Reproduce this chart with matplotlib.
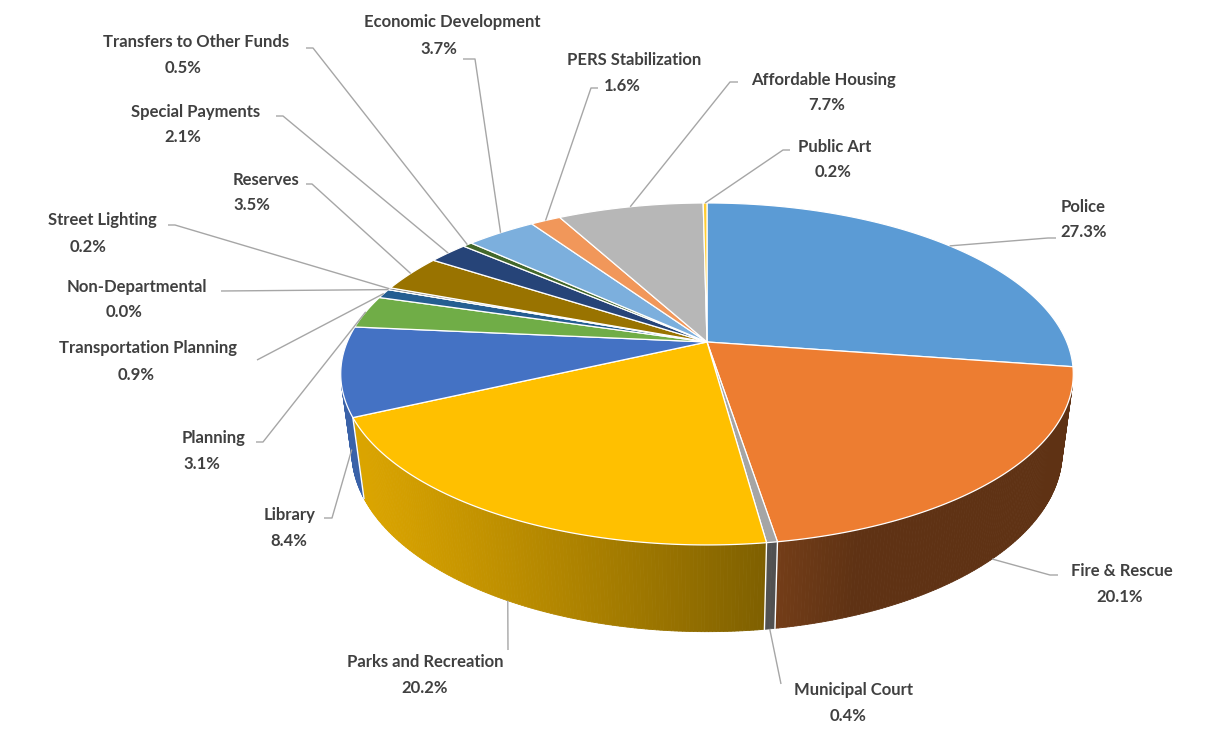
import numpy as np
import matplotlib.pyplot as plt
from matplotlib.collections import PolyCollection
from matplotlib.colors import to_rgb

# General fund spending by department (share of total, %)
labels = ['Police', 'Fire & Rescue', 'Municipal Court', 'Parks and Recreation', 'Library',
          'Planning', 'Transportation Planning', 'Non-Departmental', 'Street Lighting',
          'Reserves', 'Special Payments', 'Transfers to Other Funds', 'Economic Development',
          'PERS Stabilization', 'Affordable Housing', 'Public Art']
shares = [27.3, 20.1, 0.4, 20.2, 8.4, 3.1, 0.9, 0.0, 0.2, 3.5, 2.1, 0.5, 3.7, 1.6, 7.7, 0.2]
colors = ['#5B9BD5', '#ED7D31', '#A5A5A5', '#FFC000', '#4472C4', '#70AD47', '#255E91',
          '#9E480E', '#636363', '#997300', '#264478', '#43682B', '#7CAFDD', '#F1975A',
          '#B7B7B7', '#FFCD33']

# label layout: centre of name line, centre of percent line, leader start, tick length
name_pos = [(1083, 207), (1122, 571), (854, 690), (425, 662), (290, 515), (214, 438),
            (148, 348), (137, 287), (102, 220), (266, 180), (196, 112), (196, 42),
            (452, 22), (634, 60), (823, 80), (835, 147)]
pct_pos = [(1084, 232), (1120, 597), (848, 716), (425, 688), (289, 541), (202, 464),
           (136, 375), (124, 312), (88, 247), (252, 205), (183, 137), (183, 68),
           (439, 49), (622, 86), (827, 105), (833, 172)]
lead_pos = [(1056, 238), (1058, 575), (781, 684), (508, 650), (324, 518), (256, 442),
            (257, 360), (221, 291), (168, 225), (306, 184), (276, 116), (306, 48),
            (463, 59), (598, 88), (738, 82), (790, 150)]
lead_tick = [-8, -8, 0, 0, 8, 7, 0, 0, 7, 6, 7, 7, 12, -7, -8, -7]

# perspective camera for the tilted pie
CX, CY = 707, 342
FX, FY = 1667, 1529
TILT = np.radians(30)
DIST = 4.633
DEPTH = 0.277


def project(theta, y=0.0):
    X, Z = np.sin(theta), np.cos(theta)
    c, s = np.cos(TILT), np.sin(TILT)
    yv = y * c + Z * s
    zv = DIST + Z * c - y * s
    return CX + FX * X / zv, CY - FY * yv / zv


def shade(color, theta):
    # light comes from the front left
    f = 0.40 + 0.46 * max(0.0, np.cos(theta - np.radians(250)))
    r, g, b = to_rgb(color)
    return (r * f, g * f, b * f)


fig = plt.figure(figsize=(12.08, 7.38), dpi=100)
ax = fig.add_axes([0, 0, 1, 1])
ax.set_xlim(0, 1208)
ax.set_ylim(738, 0)
ax.axis('off')

vals = np.array(shares, dtype=float)
edges = np.concatenate([[0], np.cumsum(vals)]) / vals.sum() * 2 * np.pi

# outer wall, only the part that faces the camera
lim = np.arccos(-1 / (DIST * np.cos(TILT)))
quads, qcols = [], []
for i, col in enumerate(colors):
    a0, a1 = max(edges[i], lim), min(edges[i + 1], 2 * np.pi - lim)
    if a1 <= a0:
        continue
    n = max(2, int(np.degrees(a1 - a0) * 2))
    ts = np.linspace(a0, a1, n + 1)
    for t0, t1 in zip(ts[:-1], ts[1:]):
        quads.append([project(t0), project(t1), project(t1, -DEPTH), project(t0, -DEPTH)])
        qcols.append(shade(col, 0.5 * (t0 + t1)))
ax.add_collection(PolyCollection(quads, facecolors=qcols, edgecolors=qcols,
                                 linewidths=0.6, zorder=1))

for a in edges:
    if lim < a < 2 * np.pi - lim:
        x0, y0 = project(a)
        x1, y1 = project(a, -DEPTH)
        ax.plot([x0, x1], [y0, y1], color='white', lw=1.0, zorder=2)

# top faces
for i, col in enumerate(colors):
    a0, a1 = edges[i], edges[i + 1]
    n = max(2, int(np.degrees(a1 - a0) * 2))
    ts = np.linspace(a0, a1, n + 1)
    pts = [(CX, CY)] + [project(t) for t in ts]
    ax.add_patch(plt.Polygon(pts, closed=True, facecolor=col, edgecolor='white',
                             lw=0.9, zorder=3))

# data labels with leader lines
for i, name in enumerate(labels):
    mid = 0.5 * (edges[i] + edges[i + 1])
    ax_, ay_ = project(mid) if np.cos(mid) >= 0 else project(mid, -DEPTH)
    lx, ly = lead_pos[i]
    xs = [lx, lx + lead_tick[i], ax_]
    ys = [ly, ly, ay_]
    ax.plot(xs, ys, color='#A6A6A6', lw=1.0, zorder=4, solid_capstyle='butt')
    for txt, (tx, ty) in ((name, name_pos[i]), ('%.1f%%' % shares[i], pct_pos[i])):
        ax.text(tx, ty, txt, ha='center', va='center', fontsize=12, fontweight='bold',
                family=['Lato', 'DejaVu Sans'], color='#404040', zorder=5)

fig.savefig('out.png', dpi=100, facecolor='white')
